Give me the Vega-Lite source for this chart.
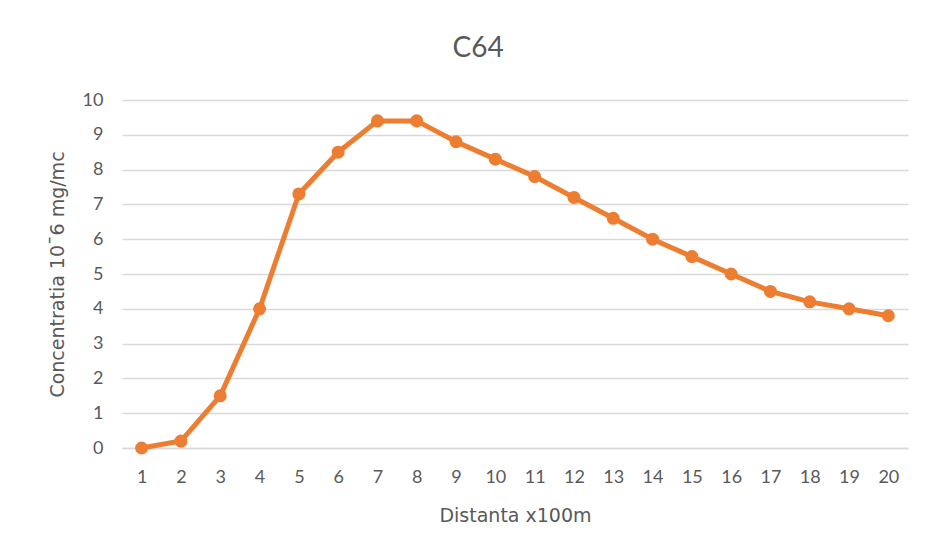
{
  "$schema": "https://vega.github.io/schema/vega-lite/v6.json",
  "width": 786,
  "height": 348,
  "autosize": "none",
  "padding": {"left": 122, "top": 100, "right": 17, "bottom": 111},
  "background": "white",
  "title": {
    "text": "C64",
    "fontSize": 28,
    "font": "Lato",
    "fontWeight": "normal",
    "color": "#595959",
    "offset": 28,
    "frame": "bounds"
  },
  "data": {
    "values": [
      {"d": 1, "c": 0},
      {"d": 2, "c": 0.2},
      {"d": 3, "c": 1.5},
      {"d": 4, "c": 4.0},
      {"d": 5, "c": 7.3},
      {"d": 6, "c": 8.5},
      {"d": 7, "c": 9.4},
      {"d": 8, "c": 9.4},
      {"d": 9, "c": 8.8},
      {"d": 10, "c": 8.3},
      {"d": 11, "c": 7.8},
      {"d": 12, "c": 7.2},
      {"d": 13, "c": 6.6},
      {"d": 14, "c": 6.0},
      {"d": 15, "c": 5.5},
      {"d": 16, "c": 5.0},
      {"d": 17, "c": 4.5},
      {"d": 18, "c": 4.2},
      {"d": 19, "c": 4.0},
      {"d": 20, "c": 3.8}
    ]
  },
  "config": {
    "view": {"stroke": null},
    "font": "Lato",
    "axis": {
      "labelFont": "Lato",
      "titleFont": "DejaVu Sans",
      "labelColor": "#595959",
      "titleColor": "#595959",
      "labelFontSize": 18,
      "titleFontSize": 19,
      "titleFontWeight": "normal"
    }
  },
  "mark": {
    "type": "line",
    "color": "#ED7D31",
    "strokeWidth": 5,
    "point": {"filled": true, "size": 170, "color": "#ED7D31", "opacity": 1}
  },
  "encoding": {
    "x": {
      "field": "d",
      "type": "ordinal",
      "sort": null,
      "title": "Distanta x100m",
      "scale": {"type": "point", "padding": 0.5},
      "axis": {
        "labelAngle": 0,
        "ticks": false,
        "domain": true,
        "domainColor": "#D9D9D9",
        "domainWidth": 1.5,
        "grid": false,
        "labelPadding": 20,
        "titlePadding": 20
      }
    },
    "y": {
      "field": "c",
      "type": "quantitative",
      "title": "Concentratia 10¯6 mg/mc",
      "scale": {"domain": [0, 10], "nice": false},
      "axis": {
        "values": [0, 1, 2, 3, 4, 5, 6, 7, 8, 9, 10],
        "ticks": false,
        "domain": false,
        "grid": true,
        "gridColor": "#D9D9D9",
        "gridWidth": 1.5,
        "labelPadding": 19,
        "titlePadding": 15
      }
    }
  }
}
